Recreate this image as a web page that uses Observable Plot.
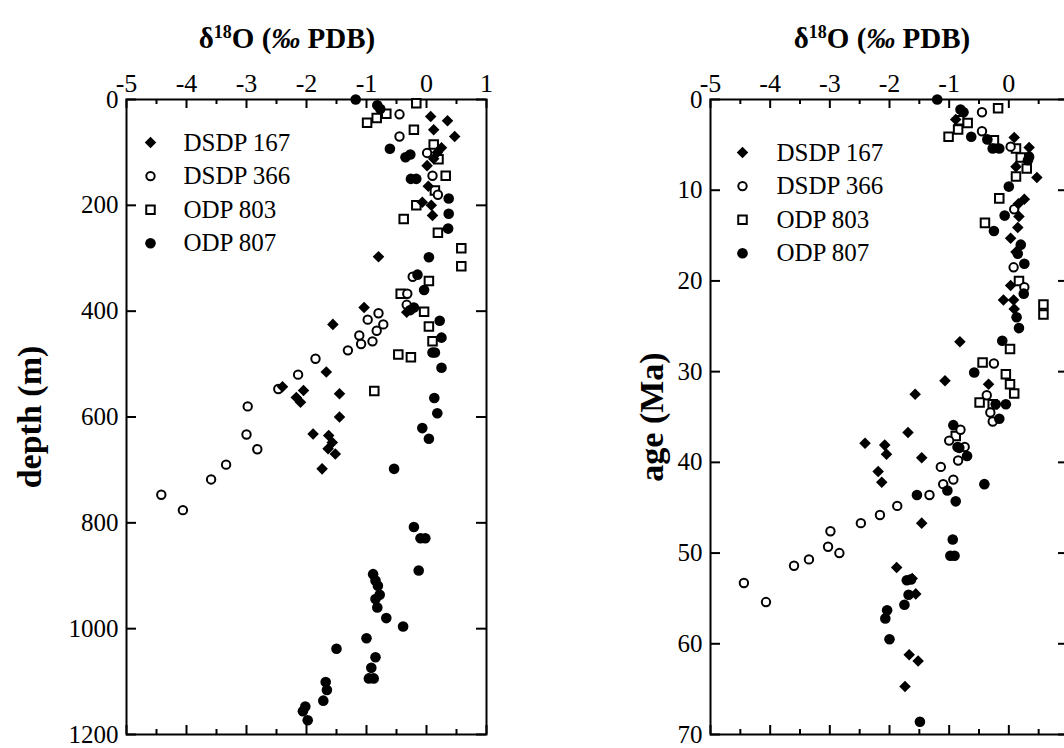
<!DOCTYPE html>
<html><head><meta charset="utf-8">
<script src="https://cdn.jsdelivr.net/npm/d3@7"></script>
<script src="https://cdn.jsdelivr.net/npm/@observablehq/plot@0.6"></script>
<style>
html,body{margin:0;padding:0;background:#fff;overflow:hidden;width:1064px;height:748px;}
#wrap{position:relative;width:1064px;height:748px;font-family:"Liberation Serif","Times New Roman",serif;color:#000;}
.panel{position:absolute;top:0;}
.title{position:absolute;top:21px;font-weight:bold;font-size:29px;white-space:nowrap;transform:translateX(-50%);line-height:1.2;}
.title sup{font-size:0.62em;vertical-align:0.55em;line-height:0;}
</style></head><body><div id="wrap"></div>
<script>
// ---- data: [delta18O, depth m] ----
const depthDSDP167 = [[0.07,32],[0.35,40],[0.12,57],[0.47,70],[0.25,91],[0.18,100],[0.12,112],[0.01,125],[0.03,164],[-0.07,194],[0.08,200],[0.1,219],[-0.8,297],[-0.33,402],[-1.04,393],[-1.56,425],[-1.67,515],[-2.4,543],[-2.05,550],[-2.17,563],[-2.1,572],[-1.45,556],[-1.45,600],[-1.89,632],[-1.63,635],[-1.57,648],[-1.64,660],[-1.52,670],[-1.74,698]];
const depthDSDP366 = [[-0.45,28],[-0.45,70],[0.01,101],[0.1,144],[0.19,180],[-0.23,335],[-0.32,367],[-0.33,388],[-0.8,404],[-0.98,416],[-0.72,425],[-0.83,437],[-1.12,446],[-0.9,457],[-1.09,462],[-1.31,474],[-1.85,490],[-2.14,520],[-2.47,547],[-2.98,580],[-3.0,633],[-2.82,661],[-3.34,690],[-3.59,718],[-4.42,747],[-4.06,776]];
const depthODP803 = [[-0.17,7],[-0.67,27],[-0.83,35],[-0.99,44],[-0.21,57],[0.12,85],[0.2,113],[0.32,144],[0.14,172],[-0.17,200],[-0.38,226],[0.19,252],[0.58,281],[0.58,315],[0.04,343],[-0.43,367],[-0.04,401],[0.04,429],[0.1,457],[-0.47,482],[-0.26,487],[-0.87,551]];
const depthODP807 = [[-1.18,0],[-0.82,11],[-0.77,18],[-0.61,93],[-0.35,109],[-0.27,104],[-0.26,150],[-0.17,150],[0.37,187],[0.37,216],[0.36,244],[0.04,298],[-0.15,331],[-0.04,360],[-0.21,393],[-0.27,398],[0.22,418],[0.25,450],[0.1,478],[0.14,478],[0.25,507],[0.13,564],[0.18,593],[-0.07,621],[0.04,641],[-0.54,698],[-0.21,808],[-0.1,829],[-0.02,829],[-0.13,890],[-0.89,897],[-0.85,909],[-0.81,919],[-0.78,936],[-0.85,944],[-0.82,960],[-0.67,980],[-0.39,996],[-1.0,1018],[-1.5,1038],[-0.85,1054],[-0.92,1074],[-0.96,1094],[-0.88,1094],[-1.68,1101],[-1.66,1116],[-1.72,1136],[-2.02,1147],[-2.06,1156],[-1.98,1173]];

// ---- data: [delta18O, age Ma] ----
const ageDSDP167 = [[-0.89,2.2],[0.09,4.2],[0.34,5.3],[0.12,7.4],[0.47,8.6],[0.26,11.0],[0.16,11.5],[0.17,12.9],[0.15,14.1],[0.03,15.3],[0.12,16.8],[0.03,20.5],[-0.09,22.1],[0.08,22.1],[0.09,23.1],[-0.82,26.7],[-1.07,31.0],[-0.34,31.4],[-1.57,32.5],[-1.69,36.7],[-2.41,37.9],[-2.08,38.1],[-2.05,39.1],[-1.46,39.5],[-2.19,41.0],[-2.13,42.2],[-1.46,46.7],[-1.88,51.6],[-1.62,52.8],[-1.56,54.5],[-1.67,61.2],[-1.52,61.9],[-1.74,64.7]];
const ageDSDP366 = [[-0.45,1.4],[-0.45,3.5],[0.03,5.2],[0.09,12.1],[0.08,18.5],[0.26,20.7],[-0.25,29.1],[-0.37,32.6],[-0.31,34.5],[-0.27,35.5],[-0.81,36.4],[-1.0,37.6],[-0.74,38.3],[-0.85,39.8],[-1.14,40.5],[-0.93,41.9],[-1.1,42.4],[-1.33,43.6],[-1.87,44.8],[-2.16,45.8],[-2.48,46.7],[-2.99,47.6],[-3.03,49.3],[-2.84,50.0],[-3.35,50.7],[-3.6,51.4],[-4.44,53.3],[-4.07,55.4]];
const ageODP803 = [[-0.18,0.96],[-0.83,2.3],[-0.69,2.6],[-0.85,3.3],[-1.01,4.1],[-0.25,4.5],[0.12,5.4],[0.2,6.4],[0.3,7.6],[0.12,8.5],[-0.16,10.9],[-0.4,13.6],[0.17,20.0],[0.58,22.6],[0.58,23.7],[0.02,27.5],[-0.44,29.0],[-0.05,30.3],[0.02,31.4],[0.09,32.4],[-0.49,33.4],[-0.27,33.6],[-0.89,37.1]];
const ageODP807 = [[-1.2,0],[-0.81,1.1],[-0.76,1.4],[-0.63,4.1],[-0.36,4.4],[-0.27,5.4],[-0.16,5.4],[0.34,6.3],[0.32,6.7],[0.0,9.6],[-0.07,12.8],[-0.25,14.5],[0.2,16.0],[0.15,17.0],[0.26,18.1],[0.25,21.4],[0.13,24.0],[0.17,25.2],[-0.11,26.6],[-0.58,30.1],[-0.22,33.6],[-0.05,33.6],[-0.16,35.2],[-0.93,35.9],[-0.86,38.3],[-0.83,38.4],[-0.7,39.3],[-0.41,42.4],[-1.03,43.1],[-1.54,43.6],[-0.89,44.3],[-0.94,48.5],[-0.98,50.3],[-0.91,50.3],[-1.71,53.0],[-1.64,52.9],[-1.68,54.6],[-1.75,55.7],[-2.04,56.3],[-2.07,57.2],[-2.0,59.5],[-1.49,68.6]];

// ---- labels and ticks ----
const seriesNames = ["DSDP 167", "DSDP 366", "ODP 803", "ODP 807"];
const xTicksMajor = [-5, -4, -3, -2, -1, 0, 1];
const xTicksMinor = [-4.5, -3.5, -2.5, -1.5, -0.5, 0.5];
const depthTicks = [0, 200, 400, 600, 800, 1000, 1200];
const ageTicks = [0, 10, 20, 30, 40, 50, 60, 70];
const xDomain = [-5, 1];
const depthDomain = [0, 1200];
const ageDomain = [0, 70];

const styles = [
  {symbol: "diamond2", fill: "black", stroke: "none", r: 5.2},
  {symbol: "circle", fill: "white", stroke: "black", strokeWidth: 2, r: 4.2},
  {symbol: "square", fill: "white", stroke: "black", strokeWidth: 2, r: 4.8},
  {symbol: "circle", fill: "black", stroke: "none", r: 5.3}
];

function panel({series, yDomain, yTicks, yLabel, left, width, marginLeft, marginRight, labelDx, legendDx, legendTextDx, legendDy}) {
  const H = 748, mt = 99, mb = 14;
  const innerH = H - mt - mb;
  const innerW = width - marginLeft - marginRight;
  const marks = [
    Plot.axisX({anchor: "top", ticks: xTicksMajor, tickSize: 0, tickPadding: 8, tickFormat: d => String(d), fontSize: 26, label: null}),
    Plot.axisY({anchor: "left", ticks: yTicks, tickSize: 0, tickPadding: 8, tickFormat: d => String(d), fontSize: 25, label: null}),
    Plot.tickX(xTicksMajor, {x: d => d, insetBottom: innerH - 9, strokeWidth: 2}),
    Plot.tickX(xTicksMajor, {x: d => d, insetTop: innerH - 9, strokeWidth: 2}),
    Plot.tickX(xTicksMinor, {x: d => d, insetBottom: innerH - 5, strokeWidth: 2}),
    Plot.tickX(xTicksMinor, {x: d => d, insetTop: innerH - 5, strokeWidth: 2}),
    Plot.tickY(yTicks, {y: d => d, insetRight: innerW - 10, strokeWidth: 2}),
    Plot.tickY(yTicks, {y: d => d, insetLeft: innerW - 10, strokeWidth: 2}),
    Plot.frame({strokeWidth: 2}),
    Plot.text([yLabel], {x: null, y: null, text: d => d, frameAnchor: "left", dx: labelDx, rotate: -90, textAnchor: "middle", lineAnchor: "middle", fontSize: 34, fontWeight: "bold"})
  ];
  const order = [2, 1, 0, 3];
  for (const i of order) {
    marks.push(Plot.dot(series[i], {x: d => d[0], y: d => d[1], ...styles[i]}));
  }
  seriesNames.forEach((name, i) => {
    marks.push(Plot.dot([name], {x: null, y: null, frameAnchor: "top-left", dx: legendDx, dy: legendDy + 33.6 * i, ...styles[i]}));
    marks.push(Plot.text([name], {x: null, y: null, text: d => d, frameAnchor: "top-left", dx: legendTextDx, dy: legendDy + 33.6 * i, textAnchor: "start", lineAnchor: "middle", fontSize: 25}));
  });
  const svg = Plot.plot({
    width, height: H,
    marginTop: mt, marginBottom: mb, marginLeft, marginRight,
    x: {domain: xDomain},
    y: {domain: yDomain, reverse: true},
    style: {fontFamily: "'Liberation Serif','Times New Roman',serif", color: "black", background: "white", overflow: "visible"},
    marks
  });
  svg.classList.add("panel");
  svg.style.left = left + "px";
  return svg;
}

const wrap = document.getElementById("wrap");
wrap.appendChild(panel({series: [depthDSDP167, depthDSDP366, depthODP803, depthODP807], yDomain: depthDomain, yTicks: depthTicks, yLabel: "depth (m)", left: 0, width: 540, marginLeft: 126, marginRight: 54, labelDx: -96, legendDx: 24, legendTextDx: 57, legendDy: 43}));
wrap.appendChild(panel({series: [ageDSDP167, ageDSDP366, ageODP803, ageODP807], yDomain: ageDomain, yTicks: ageTicks, yLabel: "age (Ma)", left: 584, width: 500, marginLeft: 126, marginRight: 16, labelDx: -58, legendDx: 32, legendTextDx: 66, legendDy: 53}));

for (const cx of [287, 882]) {
  const t = document.createElement("div");
  t.className = "title";
  t.style.left = cx + "px";
  t.innerHTML = "δ<sup>18</sup>O (<i>‰</i> PDB)";
  wrap.appendChild(t);
}
</script></body></html>
